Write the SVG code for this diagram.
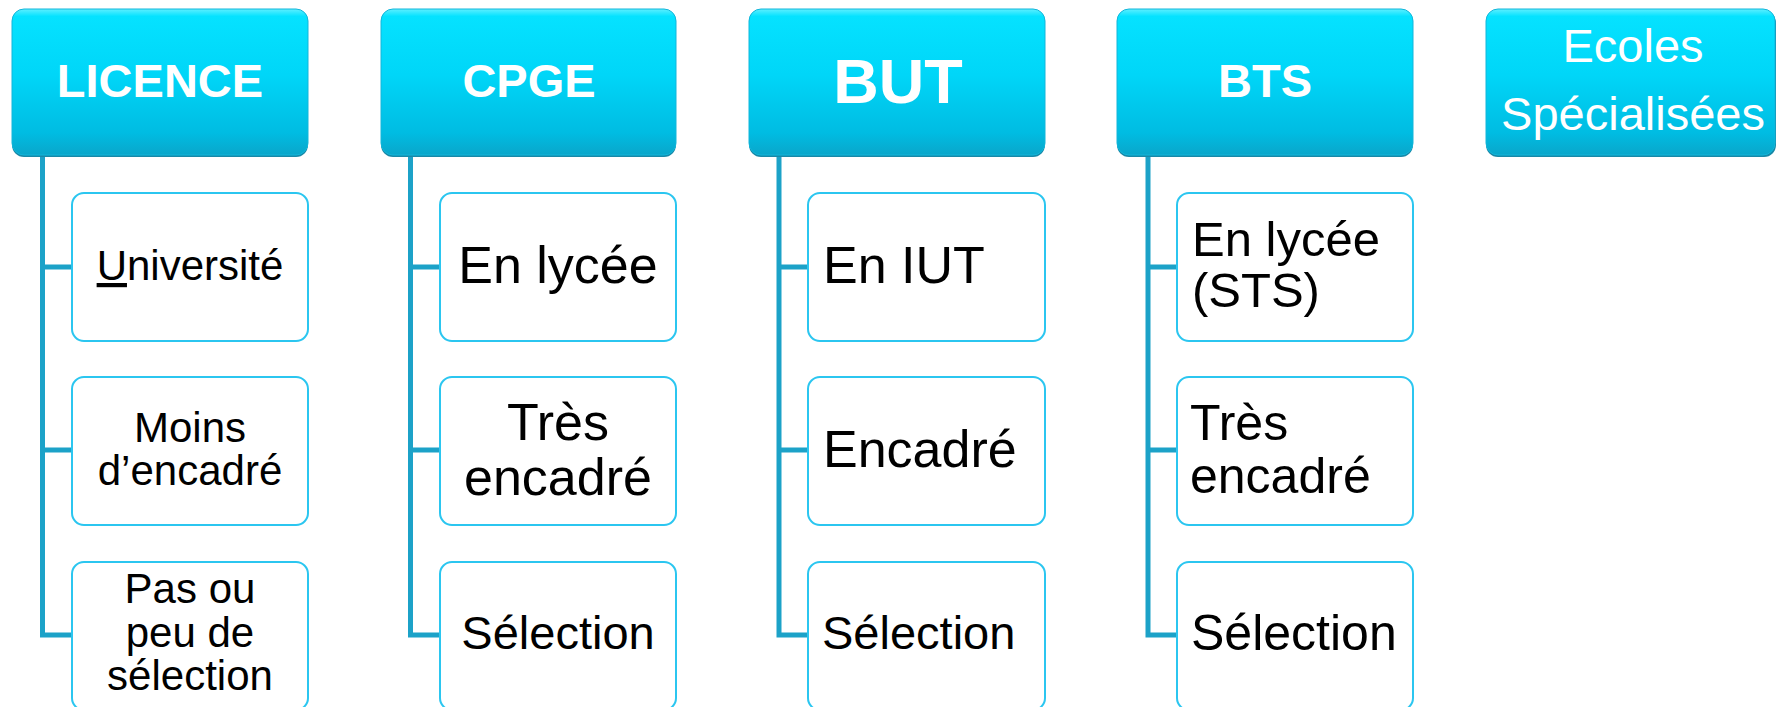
<svg xmlns="http://www.w3.org/2000/svg" width="1776" height="707" viewBox="0 0 1776 707">
<defs>
<linearGradient id="hdr" x1="0" y1="0" x2="0" y2="1">
<stop offset="0" stop-color="#5EEFFF"/>
<stop offset="0.05" stop-color="#05E2FF"/>
<stop offset="0.45" stop-color="#00D6F8"/>
<stop offset="0.85" stop-color="#00BCE2"/>
<stop offset="1" stop-color="#0AA6CA"/>
</linearGradient>
<style>
.hs{fill:#1789A8;}
.h{fill:url(#hdr);stroke:#12B6DA;stroke-width:1;}
.c{fill:#FFFFFF;stroke:#2BC6F0;stroke-width:2;}
.ht{font-family:"Liberation Sans",Arial,sans-serif;font-weight:bold;fill:#FFFFFF;text-anchor:middle;}
.hr{font-family:"Liberation Sans",Arial,sans-serif;fill:#FFFFFF;text-anchor:middle;font-size:47px;}
.t{font-family:"Liberation Sans",Arial,sans-serif;fill:#000000;}
.m{text-anchor:middle;}
.ln{fill:none;stroke:#1CA2C8;stroke-width:5;stroke-linejoin:miter;}
</style>
</defs>
<rect width="1776" height="707" fill="#FFFFFF"/>

<g id="connectors">
<path class="ln" d="M42.5,156 V635 H72 M42.5,267 H72 M42.5,450 H72"/>
<path class="ln" d="M410.5,156 V635 H440 M410.5,267 H440 M410.5,450 H440"/>
<path class="ln" d="M779,156 V635 H808 M779,267 H808 M779,450 H808"/>
<path class="ln" d="M1148,156 V635 H1177 M1148,267 H1177 M1148,450 H1177"/>
</g>

<g id="licence">
<rect class="hs" x="12" y="11" width="296" height="146" rx="12"/>
<rect class="h" x="12" y="9" width="296" height="146" rx="12"/>
<text class="ht" x="160" y="97" font-size="47">LICENCE</text>
</g>
<g id="licence-universite">
<rect class="c" x="72" y="193" width="236" height="148" rx="12"/>
<text class="t m" x="190" y="280" font-size="42"><tspan text-decoration="underline">U</tspan>niversité</text>
</g>
<g id="licence-encadre">
<rect class="c" x="72" y="377" width="236" height="148" rx="12"/>
<text class="t m" font-size="42"><tspan x="190" y="442">Moins</tspan><tspan x="190" y="485">d’encadré</tspan></text>
</g>
<g id="licence-selection">
<rect class="c" x="72" y="562" width="236" height="148" rx="12"/>
<text class="t m" font-size="42"><tspan x="190" y="603">Pas ou</tspan><tspan x="190" y="647">peu de</tspan><tspan x="190" y="690">sélection</tspan></text>
</g>

<g id="cpge">
<rect class="hs" x="381" y="11" width="295" height="146" rx="12"/>
<rect class="h" x="381" y="9" width="295" height="146" rx="12"/>
<text class="ht" x="529" y="97" font-size="47">CPGE</text>
</g>
<g id="cpge-lycee">
<rect class="c" x="440" y="193" width="236" height="148" rx="12"/>
<text class="t m" x="558" y="283" font-size="52">En lycée</text>
</g>
<g id="cpge-encadre">
<rect class="c" x="440" y="377" width="236" height="148" rx="12"/>
<text class="t m" font-size="52"><tspan x="558" y="440">Très</tspan><tspan x="558" y="495">encadré</tspan></text>
</g>
<g id="cpge-selection">
<rect class="c" x="440" y="562" width="236" height="148" rx="12"/>
<text class="t m" x="558" y="649" font-size="47">Sélection</text>
</g>

<g id="but">
<rect class="hs" x="749" y="11" width="296" height="146" rx="12"/>
<rect class="h" x="749" y="9" width="296" height="146" rx="12"/>
<text class="ht" x="898" y="103" font-size="63">BUT</text>
</g>
<g id="but-iut">
<rect class="c" x="808" y="193" width="237" height="148" rx="12"/>
<text class="t" x="823" y="283" font-size="52">En IUT</text>
</g>
<g id="but-encadre">
<rect class="c" x="808" y="377" width="237" height="148" rx="12"/>
<text class="t" x="823" y="467" font-size="52">Encadré</text>
</g>
<g id="but-selection">
<rect class="c" x="808" y="562" width="237" height="148" rx="12"/>
<text class="t" x="822" y="649" font-size="47">Sélection</text>
</g>

<g id="bts">
<rect class="hs" x="1117" y="11" width="296" height="146" rx="12"/>
<rect class="h" x="1117" y="9" width="296" height="146" rx="12"/>
<text class="ht" x="1265" y="97" font-size="47">BTS</text>
</g>
<g id="bts-lycee">
<rect class="c" x="1177" y="193" width="236" height="148" rx="12"/>
<text class="t" font-size="49"><tspan x="1192" y="256">En lycée</tspan><tspan x="1192" y="307">(STS)</tspan></text>
</g>
<g id="bts-encadre">
<rect class="c" x="1177" y="377" width="236" height="148" rx="12"/>
<text class="t" font-size="50"><tspan x="1190" y="440">Très</tspan><tspan x="1190" y="493">encadré</tspan></text>
</g>
<g id="bts-selection">
<rect class="c" x="1177" y="562" width="236" height="148" rx="12"/>
<text class="t" x="1191" y="650" font-size="50">Sélection</text>
</g>

<g id="ecoles">
<rect class="hs" x="1486" y="11" width="290" height="146" rx="12"/>
<rect class="h" x="1486" y="9" width="289" height="146" rx="12"/>
<text class="hr"><tspan x="1633" y="62">Ecoles</tspan><tspan x="1633" y="130">Spécialisées</tspan></text>
</g>
</svg>
